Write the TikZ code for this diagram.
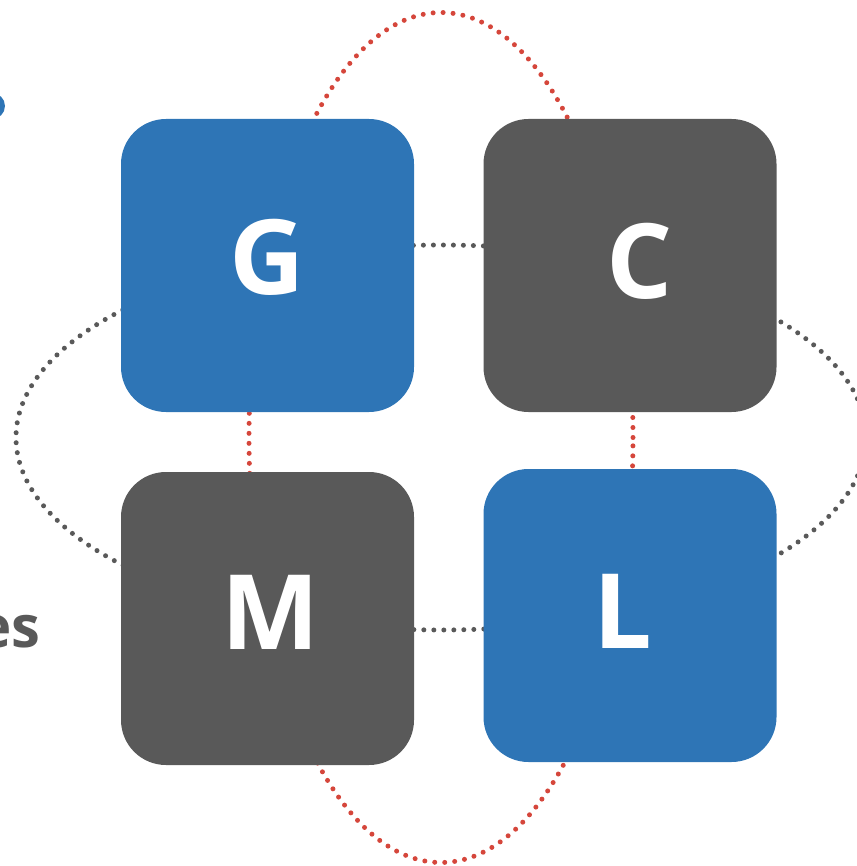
\documentclass[tikz,border=0pt]{standalone}
\usepackage{fontspec}
\setmainfont{Open Sans}
\definecolor{gblue}{HTML}{2E75B6}
\definecolor{ggray}{HTML}{595959}
\definecolor{gred}{HTML}{D5463B}
\begin{document}
\begin{tikzpicture}[x=1pt,y=-1pt,
  orbit/.style={line width=5pt,line cap=round,dash pattern=on 0pt off 10pt},
  tile/.style={rounded corners=45pt,minimum width=293pt,minimum height=293pt,inner sep=0pt,draw=none},
  letter/.style={text=white,font=\fontsize{104}{104}\selectfont\bfseries,inner sep=0pt},
  side/.style={text=ggray,font=\fontsize{58}{58}\selectfont\bfseries,inner sep=0pt}]
\useasboundingbox (0,0) rectangle (856,866);
\coordinate (ctr) at (441,437.5);
% orbits behind the tiles
\draw[orbit,gred] (ctr) ellipse [x radius=192pt,y radius=425pt];
\draw[orbit,ggray] (ctr) ellipse [x radius=425pt,y radius=192.5pt];
% tiles
\node[tile,fill=gblue] (G) at (267.5,265.5) {};
\node[tile,fill=ggray] (C) at (630,265.5) {};
\node[tile,fill=ggray] (M) at (267.5,618.5) {};
\node[tile,fill=gblue] (L) at (630,615.5) {};
\node[letter] (Gt) at ([yshift=8pt]G.center) {G};
\node[letter] (Ct) at ([xshift=10pt,yshift=4pt]C.center) {C};
\node[letter] (Mt) at ([xshift=3pt,yshift=6pt]M.center) {M};
\node[letter] (Lt) at ([xshift=-7pt,yshift=4pt]L.center) {L};
% cut-off elements at the left edge
\node[side,anchor=base east] (es) at (41,647) {es};
\fill[gblue] (-8,106) circle [radius=13pt];
\end{tikzpicture}
\end{document}
